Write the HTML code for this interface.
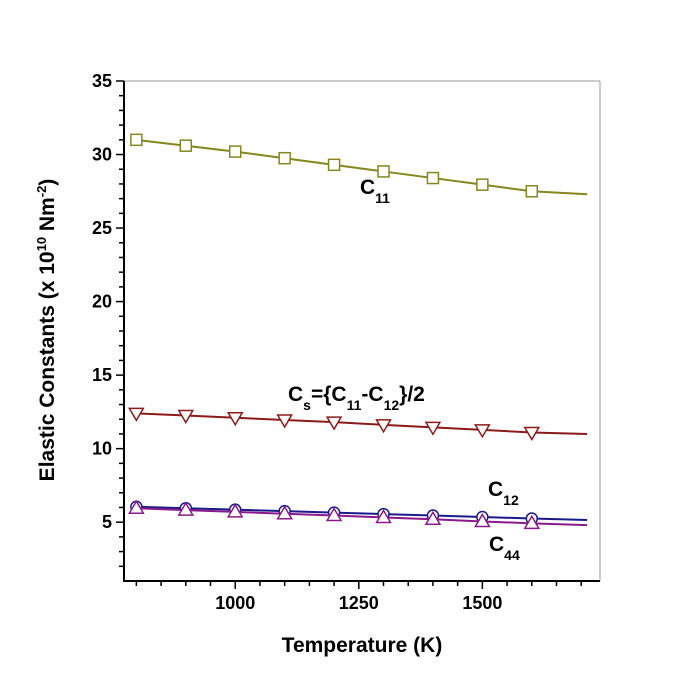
<!DOCTYPE html>
<html><head><meta charset="utf-8">
<style>
body{margin:0;background:#fff;}
svg{display:block;font-family:"Liberation Sans",Arial,sans-serif;font-weight:bold;}
</style></head>
<body>
<svg id="chart" width="697" height="696" viewBox="0 0 697 696" xmlns="http://www.w3.org/2000/svg">
<g id="axes"></g>
<g id="series"></g>
<g id="labels">
<text x="360" y="194" font-size="21">C<tspan font-size="14" dy="9">11</tspan></text>
<text x="288" y="401" font-size="21">C<tspan font-size="14" dy="9">s</tspan><tspan dy="-9">={C</tspan><tspan font-size="14" dy="9">11</tspan><tspan dy="-9">-C</tspan><tspan font-size="14" dy="9">12</tspan><tspan dy="-9">}/2</tspan></text>
<text x="488" y="496" font-size="21">C<tspan font-size="14" dy="9">12</tspan></text>
<text x="489" y="551" font-size="21">C<tspan font-size="14" dy="9">44</tspan></text>
<text transform="translate(54,330) rotate(-90)" text-anchor="middle" font-size="21">Elastic Constants (x 10<tspan font-size="13" dy="-8">10</tspan><tspan dy="8"> Nm</tspan><tspan font-size="13" dy="-8">-2</tspan><tspan dy="8">)</tspan></text>
<text x="362" y="652" text-anchor="middle" font-size="21">Temperature (K)</text>
</g>
</svg>
<script>
const temps = [800,900,1000,1100,1200,1300,1400,1500,1600,1712];
const c11 = [31.0,30.6,30.2,29.75,29.3,28.85,28.4,27.95,27.5,27.3];
const cs  = [12.4,12.25,12.1,11.95,11.8,11.62,11.45,11.28,11.1,11.0];
const c12 = [6.05,5.95,5.85,5.75,5.65,5.55,5.45,5.35,5.25,5.15];
const c44 = [5.95,5.82,5.7,5.57,5.45,5.32,5.2,5.05,4.92,4.8];
const xTicks = [1000,1250,1500];
const yTicks = [5,10,15,20,25,30,35];

const L=124,R=600,T=81,B=581, X0=775,X1=1738, Y0=1,Y1=35;
const sx=v=>L+(v-X0)/(X1-X0)*(R-L);
const sy=v=>B-(v-Y0)/(Y1-Y0)*(B-T);
const NS='http://www.w3.org/2000/svg';
function mk(tag,attrs,parent){const e=document.createElementNS(NS,tag);for(const k in attrs)e.setAttribute(k,attrs[k]);parent.appendChild(e);return e;}
const ax=document.getElementById('axes');
let e;
e=mk('line',{x1:L,y1:T,x2:R,y2:T,stroke:'#999','stroke-width':1},ax);


e=mk('line',{x1:R,y1:T,x2:R,y2:B,stroke:'#999','stroke-width':1},ax);


e=mk('line',{x1:L,y1:T,x2:L,y2:B+1,stroke:'#000','stroke-width':2},ax);


e=mk('line',{x1:L-1,y1:B,x2:R,y2:B,stroke:'#000','stroke-width':2},ax);


for(let v=Y0+1;v<=Y1;v++){const major=v%5===0;
 e=mk('line',{x1:L-(major?8:5),y1:sy(v),x2:L,y2:sy(v),stroke:'#000','stroke-width':1.5},ax);
 
 }
yTicks.forEach(v=>{e=mk('text',{x:L-12,y:sy(v)+6,'text-anchor':'end','font-size':18},ax);e.textContent=v;
 
 });
for(let v=800;v<=1700;v+=50){const major=v%250===0;
 e=mk('line',{x1:sx(v),y1:B,x2:sx(v),y2:B+(major?8:5),stroke:'#000','stroke-width':1.5},ax);
 
 }
xTicks.forEach(v=>{e=mk('text',{x:sx(v),y:B+28,'text-anchor':'middle','font-size':18},ax);e.textContent=v;
 
 });
const sg=document.getElementById('series');
function series(name,vals,color,shape){
 const g=mk('g',{},sg);
 
 
 const p=mk('polyline',{points:temps.map((t,i)=>sx(t)+','+sy(vals[i])).join(' '),fill:'none',stroke:color,'stroke-width':2},g);
 
 
 for(let i=0;i<temps.length-1;i++){const x=sx(temps[i]),y=sy(vals[i]);let m;
  if(shape==='square')m=mk('rect',{x:x-5.5,y:y-5.5,width:11,height:11,fill:'#fff',stroke:color,'stroke-width':1.5},g);
  else if(shape==='circle')m=mk('circle',{cx:x,cy:y,r:5.5,fill:'#fff',stroke:color,'stroke-width':1.5},g);
  else if(shape==='down')m=mk('polygon',{points:`${x-7},${y-5} ${x+7},${y-5} ${x},${y+7}`,fill:'#fff',stroke:color,'stroke-width':1.5},g);
  else m=mk('polygon',{points:`${x-7},${y+5} ${x+7},${y+5} ${x},${y-7}`,fill:'#fff',stroke:color,'stroke-width':1.5},g);
  
  }
}
series('c11',c11,'#86861c','square');
series('cs',cs,'#8b1a1a','down');
series('c12',c12,'#1a1a8a','circle');
series('c44',c44,'#8a1a8a','up');
</script>
</body></html>
